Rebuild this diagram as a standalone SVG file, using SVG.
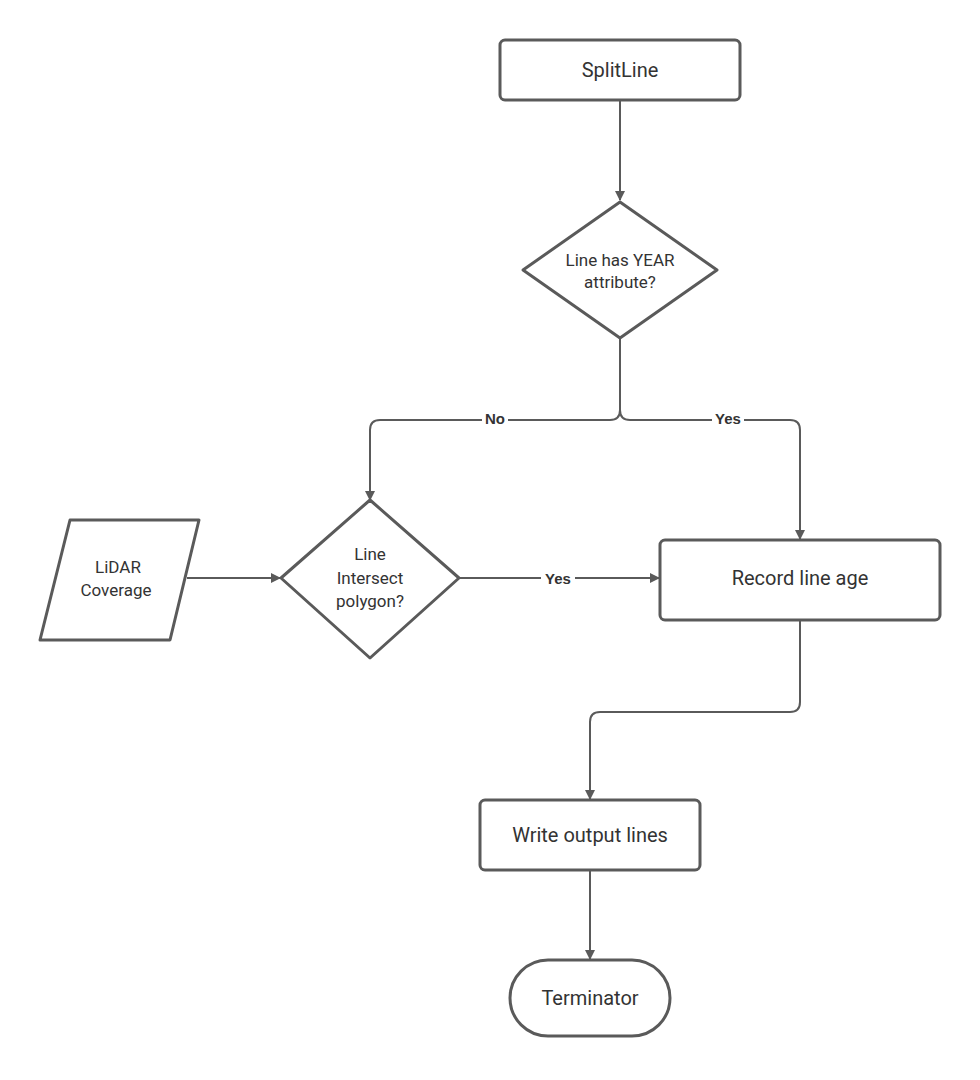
<svg xmlns="http://www.w3.org/2000/svg" width="980" height="1080" viewBox="0 0 980 1080">
<style>
.n{fill:#fff;stroke:#5a5a5a;stroke-width:3;stroke-linejoin:round}
.c{fill:none;stroke:#5a5a5a;stroke-width:2}
.t{font-family:Roboto,"Liberation Sans",sans-serif;font-size:20px;fill:#333;text-anchor:middle;dominant-baseline:central}
.s{font-size:17px}
.l{font-family:"Liberation Sans",Arial,sans-serif;font-size:15px;font-weight:bold;fill:#333;text-anchor:middle;dominant-baseline:central}
</style>
<defs><marker id="a" markerWidth="10" markerHeight="10" refX="9" refY="5" orient="auto" markerUnits="userSpaceOnUse"><path d="M0,0L10,5L0,10z" fill="#5a5a5a"/></marker></defs>
<rect width="980" height="1080" fill="#fff"/>
<g id="connectors">
<path class="c" d="M620,101V200" marker-end="url(#a)"/>
<path class="c" d="M620,338V410Q620,420 610,420H380Q370,420 370,430V500" marker-end="url(#a)"/>
<path class="c" d="M620,410Q620,420 630,420H790Q800,420 800,430V539" marker-end="url(#a)"/>
<path class="c" d="M187,578H280" marker-end="url(#a)"/>
<path class="c" d="M459,578H659" marker-end="url(#a)"/>
<path class="c" d="M800,621V702Q800,712 790,712H600Q590,712 590,722V799" marker-end="url(#a)"/>
<path class="c" d="M590,871V959" marker-end="url(#a)"/>
<rect x="482" y="409" width="26" height="18" fill="#fff"/><text class="l" x="495" y="418">No</text>
<rect x="712" y="409" width="32" height="18" fill="#fff"/><text class="l" x="728" y="418">Yes</text>
<rect x="541" y="569" width="34" height="18" fill="#fff"/><text class="l" x="558" y="578">Yes</text>
</g>
<g id="splitline"><rect class="n" x="500" y="40" width="240" height="60" rx="5"/><text class="t" x="620" y="70">SplitLine</text></g>
<g id="year"><path class="n" d="M620,202L717,270L620,338L523,270Z"/><text class="t s" x="620" y="260">Line has YEAR</text><text class="t s" x="620" y="282">attribute?</text></g>
<g id="lidar"><path class="n" d="M70,520H199L170,640H40Z"/><text class="t s" x="118" y="567">LiDAR</text><text class="t s" x="116" y="590">Coverage</text></g>
<g id="intersect"><path class="n" d="M370,500L459,578L370,658L281,578Z"/><text class="t s" x="370" y="554">Line</text><text class="t s" x="370" y="578">Intersect</text><text class="t s" x="370" y="601">polygon?</text></g>
<g id="record"><rect class="n" x="660" y="540" width="280" height="80" rx="5"/><text class="t" x="800" y="578">Record line age</text></g>
<g id="write"><rect class="n" x="480" y="800" width="220" height="70" rx="5"/><text class="t" x="590" y="835">Write output lines</text></g>
<g id="terminator"><rect class="n" x="510" y="960" width="160" height="76" rx="38"/><text class="t" x="590" y="998">Terminator</text></g>
</svg>
